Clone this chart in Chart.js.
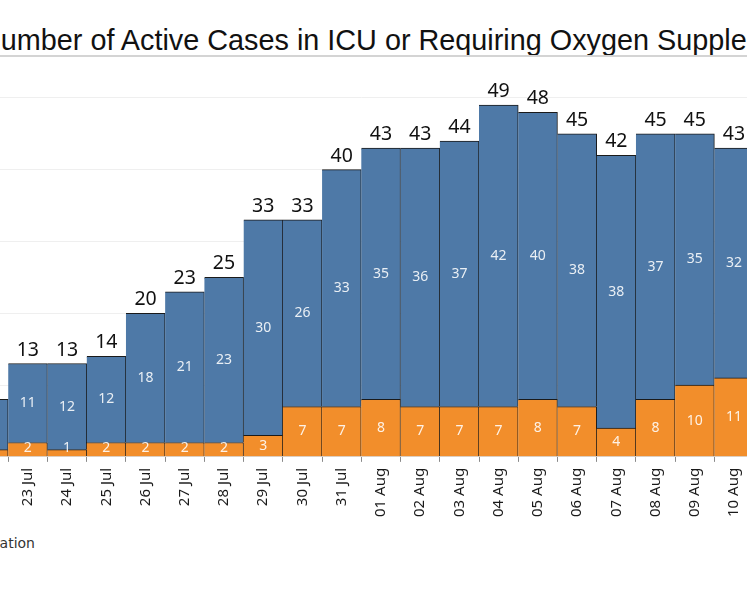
<!DOCTYPE html>
<html>
<head>
<meta charset="utf-8">
<script src="https://cdn.jsdelivr.net/npm/chart.js@4.4.0/dist/chart.umd.min.js"></script>
<style>
  html, body { margin: 0; padding: 0; background: #fff; }
  body { width: 747px; height: 598px; position: relative; overflow: hidden; }
  #title {
    position: absolute; left: -20px; top: 24px; white-space: nowrap;
    font: 28.8px/32px "Liberation Sans", Arial, sans-serif; color: #111;
  }
  #rule { position: absolute; left: 0; top: 55px; width: 747px; height: 2px; background: #d4d4d4; }
  #legend {
    position: absolute; left: -300px; top: 535px; width: 335px; text-align: right;
    font: 14px/16px "DejaVu Sans", sans-serif; color: #333; white-space: nowrap;
  }
  #chart { position: absolute; left: -31px; top: 63px; }
</style>
</head>
<body>
<div id="title">Number of Active Cases in ICU or Requiring Oxygen Supplementation</div>
<div id="rule"></div>
<canvas id="chart" width="784" height="460"></canvas>
<div id="legend">Requiring Oxygen Supplementation</div>
<script>
let dates = ["22 Jul", "23 Jul", "24 Jul", "25 Jul", "26 Jul", "27 Jul", "28 Jul",
  "29 Jul", "30 Jul", "31 Jul", "01 Aug", "02 Aug", "03 Aug", "04 Aug",
  "05 Aug", "06 Aug", "07 Aug", "08 Aug", "09 Aug", "10 Aug"];
let inIcu = [1, 2, 1, 2, 2, 2, 2, 3, 7, 7, 8, 7, 7, 7, 8, 7, 4, 8, 10, 11];
let onOxygen = [7, 11, 12, 12, 18, 21, 23, 30, 26, 33, 35, 36, 37, 42, 40, 38, 38, 37, 35, 32];
let yTicks = [0, 10, 20, 30, 40, 50];

const Y_MAX = 55;
const PLOT_H = 394.5; // plot height in px for 0..Y_MAX
const PLOT_W = 784.4; // 20 bars of ~39.2px
const PLOT_X = -31.2; // page x of the plot's left edge (first bar is cut off)
const BASE_Y = 457; // page y of the zero line

// writes the segment values and the bar totals
const valueLabels = {
  id: "valueLabels",
  afterDatasetsDraw(chart) {
    let ctx = chart.ctx;
    let yScale = chart.scales.y;
    ctx.save();
    ctx.textAlign = "center";
    ctx.font = '14px "Noto Sans"';
    ctx.fillStyle = "rgba(255,255,255,0.88)";
    ctx.textBaseline = "middle";
    chart.data.datasets.forEach((ds, di) => {
      chart.getDatasetMeta(di).data.forEach((bar, i) => {
        let cy = Math.min((bar.y + bar.base) / 2, yScale.bottom - 9);
        ctx.fillText(ds.data[i], bar.x, cy);
      });
    });
    let last = chart.getDatasetMeta(chart.data.datasets.length - 1);
    ctx.font = '19.5px "Noto Sans"';
    ctx.fillStyle = "#111";
    ctx.textBaseline = "alphabetic";
    last.data.forEach((bar, i) => {
      let total = inIcu[i] + onOxygen[i];
      ctx.fillText(total, bar.x, bar.y - 8);
    });
    ctx.restore();
  },
};

let canvas = document.getElementById("chart");
let chart = new Chart(canvas.getContext("2d"), {
  type: "bar",
  data: {
    labels: dates,
    datasets: [
      {
        label: "In ICU",
        data: inIcu,
        backgroundColor: "#f28e2b",
        borderColor: "#1a1a1a",
        borderWidth: { top: 1, right: 1, left: 0, bottom: 0 },
      },
      {
        label: "Requiring Oxygen Supplementation",
        data: onOxygen,
        backgroundColor: "#4e79a7",
        borderColor: "#1a1a1a",
        borderWidth: { top: 1, right: 1, left: 0, bottom: 0 },
      },
    ],
  },
  options: {
    responsive: false,
    maintainAspectRatio: false,
    animation: false,
    layout: { padding: 0 },
    datasets: { bar: { categoryPercentage: 1, barPercentage: 1 } },
    plugins: {
      legend: { display: false },
      tooltip: { enabled: false },
    },
    scales: {
      x: {
        stacked: true,
        grid: { drawOnChartArea: false, drawTicks: true, tickLength: 5, tickColor: "#8a8a8a" },
        border: { color: "#d9d9d9" },
        ticks: {
          minRotation: 90,
          maxRotation: 90,
          padding: 6,
          color: "#1a1a1a",
          font: { family: "Noto Sans", size: 15 },
        },
      },
      y: {
        stacked: true,
        min: 0,
        max: Y_MAX,
        grid: { color: "#efefef", drawTicks: false },
        border: { display: false },
        ticks: { display: false },
        afterBuildTicks: (scale) => {
          scale.ticks = yTicks.map((v) => ({ value: v }));
        },
      },
    },
  },
  plugins: [valueLabels],
});

// size the canvas so the plot area lines up with the picture
let area = chart.chartArea;
let extraW = area.left + (chart.width - area.right);
let extraH = chart.height - area.bottom + area.top;
chart.resize(Math.round(PLOT_W + extraW), Math.round(PLOT_H + extraH));
canvas.style.left = (PLOT_X - chart.chartArea.left) + "px";
canvas.style.top = (BASE_Y - chart.chartArea.bottom) + "px";
</script>
</body>
</html>
